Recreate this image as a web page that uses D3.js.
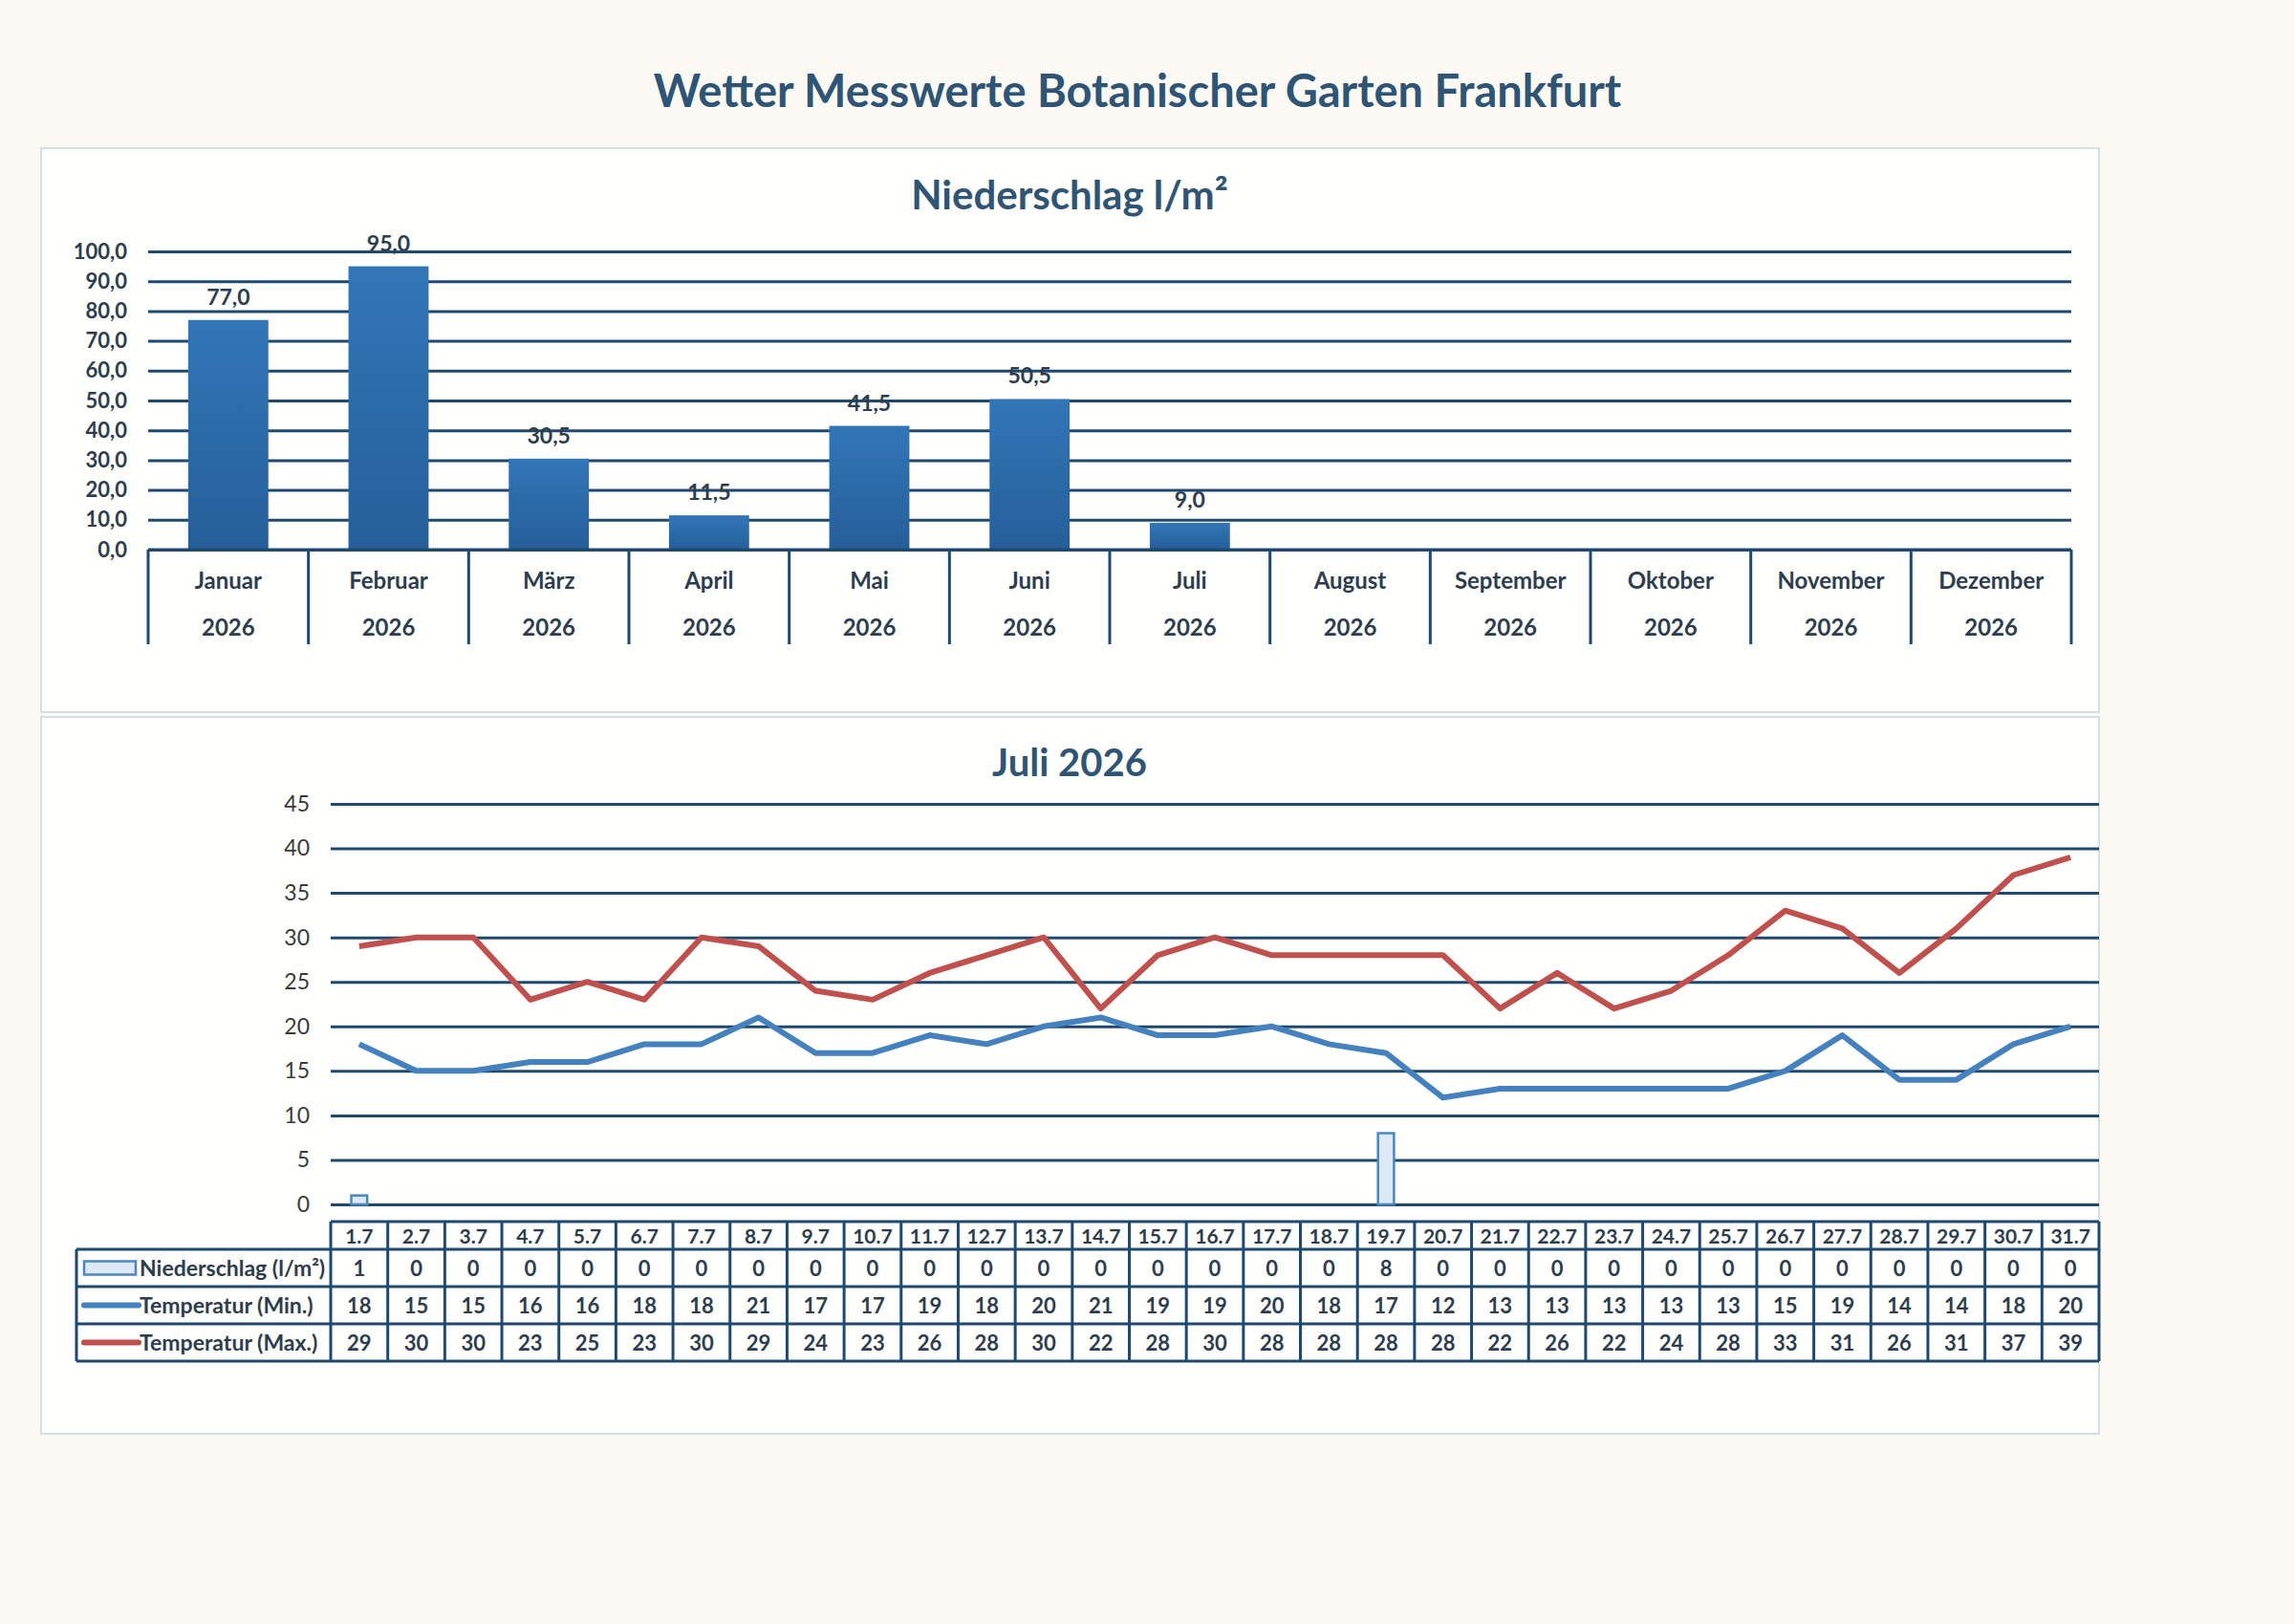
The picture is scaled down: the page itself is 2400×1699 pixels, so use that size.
<!DOCTYPE html>
<html>
<head>
<meta charset="utf-8">
<script src="https://cdn.jsdelivr.net/npm/d3@7"></script>
<style>
  html, body { margin: 0; padding: 0; background: #faf9f4; }
  svg { display: block; font-family: Lato, 'Open Sans', sans-serif; }
</style>
</head>
<body>
<div id="container"></div>
<script>
// monthly precipitation
const months = ['Januar', 'Februar', 'März', 'April', 'Mai', 'Juni', 'Juli', 'August', 'September', 'Oktober', 'November', 'Dezember']
const monthYear = '2026'
const monthlyRain = [77.0, 95.0, 30.5, 11.5, 41.5, 50.5, 9.0, null, null, null, null, null]
const rainTicks = [0, 10, 20, 30, 40, 50, 60, 70, 80, 90, 100]

// july daily values
const days = ['1.7', '2.7', '3.7', '4.7', '5.7', '6.7', '7.7', '8.7', '9.7', '10.7', '11.7', '12.7', '13.7', '14.7', '15.7', '16.7',
  '17.7', '18.7', '19.7', '20.7', '21.7', '22.7', '23.7', '24.7', '25.7', '26.7', '27.7', '28.7', '29.7', '30.7', '31.7']
const dailyRain = [1, 0, 0, 0, 0, 0, 0, 0, 0, 0, 0, 0, 0, 0, 0, 0, 0, 0, 8, 0, 0, 0, 0, 0, 0, 0, 0, 0, 0, 0, 0]
const tempMin = [18, 15, 15, 16, 16, 18, 18, 21, 17, 17, 19, 18, 20, 21, 19, 19, 20, 18, 17, 12, 13, 13, 13, 13, 13, 15, 19, 14, 14, 18, 20]
const tempMax = [29, 30, 30, 23, 25, 23, 30, 29, 24, 23, 26, 28, 30, 22, 28, 30, 28, 28, 28, 28, 22, 26, 22, 24, 28, 33, 31, 26, 31, 37, 39]
const julyTicks = [0, 5, 10, 15, 20, 25, 30, 35, 40, 45]

const W = 2400
const H = 1699
const navy = '#1f4a70'
const textCol = '#2e3d4e'
const de = d3.formatLocale({ decimal: ',', thousands: '.', grouping: [3], currency: ['', ' €'] })
const f1 = de.format('.1f')

const svg = d3.select('#container')
  .append('svg')
  .attr('width', W)
  .attr('height', H)

const defs = svg.append('defs')
const grad = defs.append('linearGradient')
  .attr('id', 'barGrad')
  .attr('x1', 0).attr('y1', 0).attr('x2', 0).attr('y2', 1)
grad.append('stop').attr('offset', '0%').attr('stop-color', '#3276b8')
grad.append('stop').attr('offset', '100%').attr('stop-color', '#255f99')

svg.append('rect').attr('width', W).attr('height', H).attr('fill', '#faf9f4')

svg.append('text')
  .attr('x', 1190)
  .attr('y', 112)
  .attr('text-anchor', 'middle')
  .attr('font-size', 47)
  .attr('font-weight', 700)
  .attr('fill', '#2f5474')
  .text('Wetter Messwerte Botanischer Garten Frankfurt')

// panels
svg.append('rect')
  .attr('x', 43).attr('y', 155).attr('width', 2153).attr('height', 590)
  .attr('fill', '#fefefc').attr('stroke', '#d6dfe5').attr('stroke-width', 2)
svg.append('rect')
  .attr('x', 43).attr('y', 750).attr('width', 2153).attr('height', 750)
  .attr('fill', '#fefefc').attr('stroke', '#d6dfe5').attr('stroke-width', 2)

// ---------- top chart ----------
const rainBox = { left: 155, right: 2167, top: 263, bottom: 575 }

svg.append('text')
  .attr('x', 1119)
  .attr('y', 219)
  .attr('text-anchor', 'middle')
  .attr('font-size', 42)
  .attr('font-weight', 700)
  .attr('fill', '#2f5474')
  .text('Niederschlag l/m²')

const xMonth = d3.scaleBand()
  .domain(months)
  .range([rainBox.left, rainBox.right])
  .paddingInner(0.5)
  .paddingOuter(0.25)
const yRain = d3.scaleLinear()
  .domain([0, 100])
  .range([rainBox.bottom, rainBox.top])

const yAxisTop = svg.append('g')
  .attr('transform', `translate(${rainBox.left},0)`)
  .call(d3.axisLeft(yRain).tickValues(rainTicks).tickFormat(f1)
    .tickSizeInner(-(rainBox.right - rainBox.left)).tickSizeOuter(0).tickPadding(22))
yAxisTop.select('.domain').remove()
yAxisTop.selectAll('line').attr('stroke', navy).attr('stroke-width', 3)
yAxisTop.selectAll('text')
  .attr('font-size', 22).attr('font-weight', 700).attr('fill', textCol)
  .attr('font-family', 'Lato, sans-serif')

const rainData = months.map((m, i) => ({ m, v: monthlyRain[i] })).filter(d => d.v !== null)

svg.append('g')
  .selectAll('rect')
  .data(rainData)
  .join('rect')
  .attr('x', d => xMonth(d.m))
  .attr('y', d => yRain(d.v))
  .attr('width', xMonth.bandwidth())
  .attr('height', d => yRain(0) - yRain(d.v))
  .attr('fill', 'url(#barGrad)')

svg.append('g')
  .selectAll('text')
  .data(rainData)
  .join('text')
  .attr('x', d => xMonth(d.m) + xMonth.bandwidth() / 2)
  .attr('y', d => yRain(d.v) - 16)
  .attr('text-anchor', 'middle')
  .attr('font-size', 23)
  .attr('font-weight', 700)
  .attr('fill', textCol)
  .text(d => f1(d.v))

// category table below axis
const sepX = d3.range(months.length + 1).map(i => rainBox.left + i * (rainBox.right - rainBox.left) / months.length)
svg.append('line')
  .attr('x1', rainBox.left).attr('x2', rainBox.right)
  .attr('y1', rainBox.bottom).attr('y2', rainBox.bottom)
  .attr('stroke', navy).attr('stroke-width', 3)
svg.append('g')
  .selectAll('line')
  .data(sepX)
  .join('line')
  .attr('x1', d => d).attr('x2', d => d)
  .attr('y1', rainBox.bottom).attr('y2', 674)
  .attr('stroke', navy).attr('stroke-width', 3)
const monthLbl = svg.append('g')
  .selectAll('g')
  .data(months)
  .join('g')
  .attr('transform', d => `translate(${xMonth(d) + xMonth.bandwidth() / 2},0)`)
monthLbl.append('text')
  .attr('y', 616).attr('text-anchor', 'middle')
  .attr('font-size', 24).attr('font-weight', 700).attr('fill', textCol)
  .text(d => d)
monthLbl.append('text')
  .attr('y', 665).attr('text-anchor', 'middle')
  .attr('font-size', 24).attr('font-weight', 700).attr('fill', textCol)
  .text(monthYear)

// ---------- bottom chart ----------
const julyBox = { left: 346, right: 2196, top: 841, bottom: 1260 }

svg.append('text')
  .attr('x', 1119)
  .attr('y', 812)
  .attr('text-anchor', 'middle')
  .attr('font-size', 40)
  .attr('font-weight', 700)
  .attr('fill', '#2f5474')
  .text('Juli 2026')

const xDay = d3.scaleBand()
  .domain(days)
  .range([julyBox.left, julyBox.right])
const yTemp = d3.scaleLinear()
  .domain([0, 45])
  .range([julyBox.bottom, julyBox.top])

const yAxisBot = svg.append('g')
  .attr('transform', `translate(${julyBox.left},0)`)
  .call(d3.axisLeft(yTemp).tickValues(julyTicks)
    .tickSizeInner(-(julyBox.right - julyBox.left)).tickSizeOuter(0).tickPadding(22))
yAxisBot.select('.domain').remove()
yAxisBot.selectAll('line').attr('stroke', navy).attr('stroke-width', 3)
yAxisBot.selectAll('text')
  .attr('font-size', 23).attr('fill', '#3a3a3a')
  .attr('font-family', 'Lato, sans-serif')

const barW = xDay.bandwidth() * 0.28
svg.append('g')
  .selectAll('rect')
  .data(days.map((d, i) => ({ d, v: dailyRain[i] })).filter(d => d.v > 0))
  .join('rect')
  .attr('x', d => xDay(d.d) + (xDay.bandwidth() - barW) / 2)
  .attr('y', d => yTemp(d.v))
  .attr('width', barW)
  .attr('height', d => yTemp(0) - yTemp(d.v))
  .attr('fill', '#dce9f6')
  .attr('stroke', '#4a86c2')
  .attr('stroke-width', 2.5)

const line = d3.line()
  .x((d, i) => xDay(days[i]) + xDay.bandwidth() / 2)
  .y(d => yTemp(d))

svg.append('path')
  .datum(tempMin)
  .attr('fill', 'none')
  .attr('stroke', '#4581bf')
  .attr('stroke-width', 6)
  .attr('stroke-linejoin', 'round')
  .attr('d', line)
svg.append('path')
  .datum(tempMax)
  .attr('fill', 'none')
  .attr('stroke', '#c0504d')
  .attr('stroke-width', 6)
  .attr('stroke-linejoin', 'round')
  .attr('d', line)

// data table
const rowY = [1278, 1307, 1346, 1385, 1424]
const tblLeft = 80
const tbl = svg.append('g')
tbl.append('line')
  .attr('x1', julyBox.left).attr('x2', julyBox.right)
  .attr('y1', rowY[0]).attr('y2', rowY[0])
  .attr('stroke', navy).attr('stroke-width', 3)
tbl.append('g')
  .selectAll('line')
  .data(rowY.slice(1))
  .join('line')
  .attr('x1', tblLeft).attr('x2', julyBox.right)
  .attr('y1', d => d).attr('y2', d => d)
  .attr('stroke', navy).attr('stroke-width', 3)
tbl.append('line')
  .attr('x1', tblLeft).attr('x2', tblLeft)
  .attr('y1', rowY[1]).attr('y2', rowY[4])
  .attr('stroke', navy).attr('stroke-width', 3)
tbl.append('g')
  .selectAll('line')
  .data(days.map(d => xDay(d)).concat([julyBox.right]))
  .join('line')
  .attr('x1', d => d).attr('x2', d => d)
  .attr('y1', rowY[0]).attr('y2', rowY[4])
  .attr('stroke', navy).attr('stroke-width', 3)

const rows = [days, dailyRain, tempMin, tempMax]
rows.forEach((vals, r) => {
  tbl.append('g')
    .selectAll('text')
    .data(vals)
    .join('text')
    .attr('x', (d, i) => xDay(days[i]) + xDay.bandwidth() / 2)
    .attr('y', (rowY[r] + rowY[r + 1]) / 2 + 8)
    .attr('text-anchor', 'middle')
    .attr('font-size', r === 0 ? 21 : 22)
    .attr('font-weight', 700)
    .attr('fill', textCol)
    .text(d => d)
})

// legend keys in table
const legendRows = [
  { label: 'Niederschlag (l/m²)', type: 'bar', color: '#4a86c2' },
  { label: 'Temperatur (Min.)', type: 'line', color: '#4581bf' },
  { label: 'Temperatur (Max.)', type: 'line', color: '#c0504d' }
]
legendRows.forEach((d, i) => {
  const cy = (rowY[i + 1] + rowY[i + 2]) / 2
  if (d.type === 'bar') {
    tbl.append('rect')
      .attr('x', 88).attr('y', cy - 7).attr('width', 54).attr('height', 14)
      .attr('fill', '#dce9f6').attr('stroke', d.color).attr('stroke-width', 2.5)
  } else {
    tbl.append('line')
      .attr('x1', 88).attr('x2', 145).attr('y1', cy).attr('y2', cy)
      .attr('stroke', d.color).attr('stroke-width', 6).attr('stroke-linecap', 'round')
  }
  tbl.append('text')
    .attr('x', 146)
    .attr('y', cy + 8)
    .attr('font-size', 23)
    .attr('font-weight', 700)
    .attr('fill', textCol)
    .text(d.label)
})
</script>
</body>
</html>
